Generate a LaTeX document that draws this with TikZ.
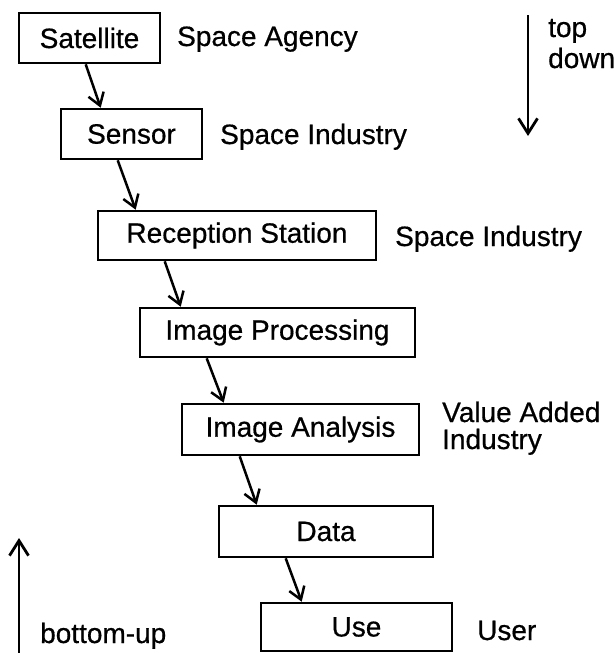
\documentclass[tikz,border=0pt]{standalone}
\usepackage{fontspec}
\setmainfont{Liberation Sans}[FakeBold=0.6]
\usetikzlibrary{arrows.meta}
\begin{document}
\begin{tikzpicture}[x=1pt,y=-1pt,
  box/.style={draw, line width=2.6pt, rectangle, inner sep=0pt, font=\fontsize{28}{32}\selectfont},
  lbl/.style={inner sep=0pt, anchor=base west, font=\fontsize{28}{32}\selectfont},
  conn/.style={line width=2.5pt, -{Straight Barb[length=12pt,width=16pt]}},
  dirarr/.style={line width=2.8pt, -{Straight Barb[length=15pt,width=19pt]}}]
\useasboundingbox (0,0) rectangle (615,653);
% boxes
\node[box, minimum width=141pt, minimum height=50pt] (sat) at (89.5,38) {Satellite};
\node[box, minimum width=141pt, minimum height=50pt] (sen) at (131.5,134) {Sensor};
\node[box, minimum width=278pt, minimum height=49pt] (rec) at (237,235.5) {Reception Station};
\node[box, minimum width=275pt, minimum height=49pt] (ip) at (277.5,332.5) {Image Processing};
\node[box, minimum width=237pt, minimum height=51pt] (ia) at (300.5,429.5) {Image Analysis};
\node[box, minimum width=214pt, minimum height=51pt] (dat) at (326,531.5) {Data};
\node[box, minimum width=191pt, minimum height=48pt] (use) at (356.5,627) {Use};
% connectors
\draw[conn] ([xshift=68pt]sat.south west) -- ([xshift=41pt]sen.north west);
\draw[conn] ([xshift=58pt]sen.south west) -- ([xshift=39pt]rec.north west);
\draw[conn] ([xshift=68pt]rec.south west) -- ([xshift=42pt]ip.north west);
\draw[conn] ([xshift=68pt]ip.south west) -- ([xshift=43pt]ia.north west);
\draw[conn] ([xshift=59pt]ia.south west) -- ([xshift=39pt]dat.north west);
\draw[conn] ([xshift=68pt]dat.south west) -- ([xshift=42pt]use.north west);
% labels
\node[lbl] (l1) at (177,46) {Space Agency};
\node[lbl] (l2) at (220,144) {Space Industry};
\node[lbl] (l3) at (395,246) {Space Industry};
\node[lbl, align=left, font=\fontsize{28}{27}\selectfont] (l4) at (442,449) {Value Added\\Industry};
\node[lbl] (l5) at (477,640) {User};
% direction arrows
\coordinate (tdA) at (528,15);
\coordinate (tdB) at (528,136);
\draw[dirarr] (tdA) -- (tdB);
\node[lbl, align=left, font=\fontsize{28}{31}\selectfont] (td) at (548,68) {top\\down};
\coordinate (buA) at (19,653);
\coordinate (buB) at (19,538);
\draw[dirarr] (buA) -- (buB);
\node[lbl] (bu) at (40,643) {bottom-up};
\end{tikzpicture}
\end{document}
